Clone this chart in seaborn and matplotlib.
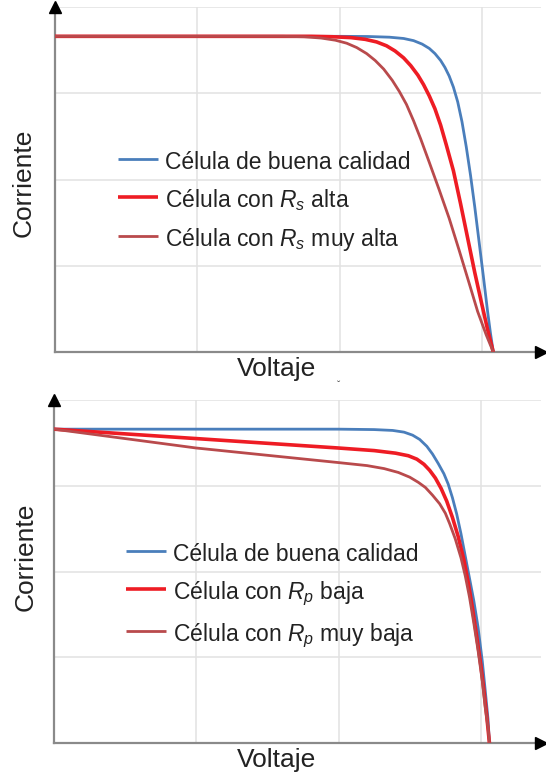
import numpy as np
import pandas as pd
import matplotlib
matplotlib.use("Agg")
import matplotlib.pyplot as plt
import seaborn as sns

# ---------------- data (arbitrary units) ----------------
# Top panel: effect of series resistance Rs
top_good_v = [0.0, 2.0, 2.2, 2.35, 2.45, 2.52, 2.58, 2.63, 2.67, 2.71, 2.74, 2.77, 2.80, 2.83,
              2.86, 2.89, 2.92, 2.95, 2.98, 3.01, 3.04, 3.06, 3.08]
top_good_i = [3.66, 3.66, 3.658, 3.65, 3.635, 3.61, 3.57, 3.52, 3.46, 3.38, 3.30, 3.20, 3.07, 2.90,
              2.67, 2.38, 2.05, 1.68, 1.28, 0.88, 0.47, 0.22, 0.0]

top_rs_v = [0.0, 1.8, 1.95, 2.08, 2.18, 2.26, 2.33, 2.39, 2.45, 2.50, 2.55, 2.59, 2.63, 2.67,
            2.71, 2.75, 2.80, 2.85, 2.90, 2.95, 3.00, 3.04, 3.08]
top_rs_i = [3.66, 3.66, 3.655, 3.645, 3.625, 3.595, 3.55, 3.49, 3.41, 3.32, 3.21, 3.10, 2.97, 2.82,
            2.63, 2.40, 2.10, 1.72, 1.32, 0.92, 0.55, 0.26, 0.0]

top_rs2_v = [0.0, 1.6, 1.75, 1.87, 1.97, 2.05, 2.12, 2.19, 2.25, 2.31, 2.37, 2.42, 2.47, 2.52,
             2.57, 2.63, 2.70, 2.77, 2.84, 2.91, 2.97, 3.03, 3.08]
top_rs2_i = [3.66, 3.66, 3.655, 3.64, 3.615, 3.58, 3.53, 3.46, 3.38, 3.28, 3.15, 3.02, 2.87, 2.68,
             2.47, 2.20, 1.88, 1.55, 1.18, 0.80, 0.47, 0.20, 0.0]

# Bottom panel: effect of shunt resistance Rp
bot_good_v = [0.0, 2.0, 2.25, 2.38, 2.46, 2.52, 2.57, 2.62, 2.66, 2.70, 2.74, 2.77, 2.80, 2.83,
              2.86, 2.89, 2.92, 2.95, 2.98, 3.01, 3.03, 3.05, 3.06]
bot_good_i = [3.66, 3.66, 3.655, 3.645, 3.625, 3.59, 3.54, 3.46, 3.37, 3.26, 3.14, 3.02, 2.86, 2.67,
              2.44, 2.18, 1.92, 1.66, 1.35, 0.95, 0.62, 0.28, 0.0]

bot_rp_v = [0.0, 0.5, 1.0, 1.5, 2.0, 2.25, 2.40, 2.49, 2.55, 2.60, 2.64, 2.68, 2.72, 2.76,
            2.80, 2.84, 2.88, 2.91, 2.94, 2.97, 3.00, 3.02, 3.04, 3.06]
bot_rp_i = [3.66, 3.605, 3.55, 3.495, 3.44, 3.41, 3.38, 3.35, 3.31, 3.25, 3.18, 3.09, 2.97, 2.82,
            2.63, 2.41, 2.14, 1.88, 1.58, 1.25, 0.90, 0.63, 0.33, 0.0]

bot_rp2_v = [0.0, 0.5, 1.0, 1.5, 2.0, 2.20, 2.32, 2.42, 2.50, 2.56, 2.61, 2.66, 2.71, 2.75,
             2.78, 2.82, 2.86, 2.89, 2.92, 2.95, 2.98, 3.01, 3.03, 3.05, 3.06]
bot_rp2_i = [3.66, 3.55, 3.44, 3.355, 3.27, 3.235, 3.20, 3.155, 3.10, 3.04, 2.98, 2.89, 2.79, 2.68,
             2.56, 2.38, 2.16, 1.95, 1.70, 1.40, 1.08, 0.72, 0.42, 0.18, 0.0]

top_labels = ["Célula de buena calidad", "Célula con $R_s$ alta", "Célula con $R_s$ muy alta"]
bot_labels = ["Célula de buena calidad", "Célula con $R_p$ baja", "Célula con $R_p$ muy baja"]
x_label = "Voltaje"
y_label = "Corriente"

colors = ["#4a7ebb", "#ee1c24", "#b94a4c"]
widths = [2.0, 2.6, 2.0]

# ---------------- style ----------------
sns.set_style("white")
plt.rcParams["font.family"] = ["Liberation Sans", "DejaVu Sans"]
plt.rcParams["mathtext.fontset"] = "custom"
plt.rcParams["mathtext.rm"] = "Liberation Sans"
plt.rcParams["mathtext.it"] = "Liberation Sans:italic"

W, H = 546, 781
fig = plt.figure(figsize=(W / 100, H / 100), dpi=100)


def px_axes(left, top, right, bottom):
    return fig.add_axes([left / W, 1 - bottom / H, (right - left) / W, (bottom - top) / H])


def draw_panel(ax, series, labels, xmax, ymax, leg_anchor):
    for (v, i), lab, c, lw in zip(series, labels, colors, widths):
        df = pd.DataFrame({"v": v, "i": i})
        sns.lineplot(data=df, x="v", y="i", ax=ax, color=c, lw=lw, label=lab,
                     sort=False, estimator=None, solid_capstyle="butt",
                     solid_joinstyle="round", zorder=3)
    ax.set_xlim(0, xmax)
    ax.set_ylim(0, ymax)
    ax.set_xticks([1, 2, 3])
    ax.set_yticks([1, 2, 3, 4])
    ax.set_xticklabels([])
    ax.set_yticklabels([])
    ax.tick_params(length=0)
    ax.grid(True, color="#e2e2e2", lw=1.1, zorder=0)
    ax.set_axisbelow(True)
    ax.set_xlabel("")
    ax.set_ylabel("")
    for s in ["top", "right"]:
        ax.spines[s].set_visible(False)
    for s in ["left", "bottom"]:
        ax.spines[s].set_color("#8a8a8a")
        ax.spines[s].set_linewidth(1.6)
    # arrow heads
    ax.plot([0], [1.0], marker="^", ms=8, color="black", transform=ax.transAxes,
            clip_on=False, zorder=5)
    ax.plot([1.0], [0], marker=">", ms=8, color="black", transform=ax.transAxes,
            clip_on=False, zorder=5)
    leg = ax.legend(loc="upper left", bbox_to_anchor=leg_anchor, frameon=False,
                    fontsize=16.5, handlelength=1.75, handletextpad=0.3,
                    handleheight=1.4, labelspacing=0.52, borderpad=0, borderaxespad=0)
    for t in leg.get_texts():
        t.set_color("#222222")


ax1 = px_axes(55, 7, 541, 352)
draw_panel(ax1, [(top_good_v, top_good_i), (top_rs_v, top_rs_i), (top_rs2_v, top_rs2_i)],
           top_labels, 486 / 142.3, 345 / 86.25, (0.13, 0.591))

ax2 = px_axes(54, 400, 541, 743)
draw_panel(ax2, [(bot_good_v, bot_good_i), (bot_rp_v, bot_rp_i), (bot_rp2_v, bot_rp2_i)],
           bot_labels, 487 / 142.3, 343 / 86.0, (0.148, 0.591))

# axis labels
fig.text(277 / W, 1 - 369 / H, x_label, ha="center", va="center", fontsize=19, color="#222222")
fig.text(24 / W, 1 - 183 / H, y_label, ha="center", va="center", rotation=90, fontsize=19, color="#222222")
fig.text(277 / W, 1 - 760 / H, x_label, ha="center", va="center", fontsize=19, color="#222222")
fig.text(26 / W, 1 - 557 / H, y_label, ha="center", va="center", rotation=90, fontsize=19, color="#222222")
fig.text(339 / W, 1 - 386 / H, "ˇ", ha="center", va="center", fontsize=7, color="#444444")

fig.savefig("out.png", dpi=100)
